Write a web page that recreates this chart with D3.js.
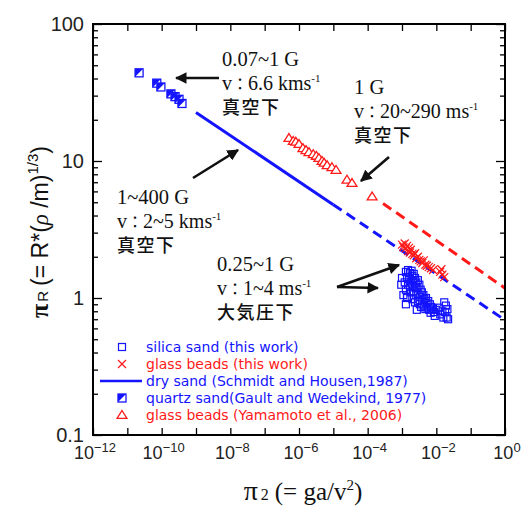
<!DOCTYPE html>
<html>
<head>
<meta charset="utf-8">
<script src="https://cdn.jsdelivr.net/npm/d3@7"></script>
<style>
  html, body { margin: 0; padding: 0; background: #fff; }
  svg { display: block; }
</style>
</head>
<body>
<svg id="chart" width="526" height="507"></svg>
<script>
// ---- data ----
// silica sand (this work): [π2, πR]
const silicaSand = [
  [1.3e-3,1.55],[1.5e-3,1.60],[1.7e-3,1.52],[1.9e-3,1.58],[1.4e-3,1.42],[1.6e-3,1.38],
  [2.0e-3,1.45],[2.2e-3,1.50],[1.2e-3,1.30],[1.5e-3,1.25],[1.8e-3,1.32],[2.1e-3,1.35],
  [2.4e-3,1.40],[1.3e-3,1.15],[1.7e-3,1.20],[2.0e-3,1.22],[2.3e-3,1.28],[2.6e-3,1.30],
  [2.9e-3,1.35],[1.1e-3,1.05],[1.4e-3,1.02],[1.8e-3,1.10],[2.2e-3,1.12],[2.5e-3,1.18],
  [2.8e-3,1.20],[3.2e-3,1.25],[3.5e-3,1.15],[2.0e-3,0.98],[2.6e-3,1.05],[3.0e-3,1.08],
  [3.4e-3,1.02],[3.8e-3,1.10],[4.2e-3,1.05],[2.4e-3,0.93],[2.9e-3,0.95],[3.3e-3,0.90],
  [3.9e-3,0.96],[4.5e-3,0.98],[5.0e-3,1.00],[3.6e-3,0.86],[4.3e-3,0.88],[5.2e-3,0.92],
  [5.8e-3,0.95],[6.5e-3,0.90],[4.8e-3,0.83],[5.5e-3,0.85],[6.2e-3,0.82],[7.0e-3,0.86],
  [8.0e-3,0.84],[6.8e-3,0.78],[8.5e-3,0.79],[1.0e-2,0.82],[1.2e-2,0.85],[1.5e-2,0.80],
  [1.7e-2,0.93],[1.8e-2,0.79],[2.0e-2,0.72],[2.2e-2,0.70],[1.4e-3,1.00],[1.3e-3,0.90],
  [9.5e-4,1.25],[1.0e-3,1.40],[2.7e-3,0.82],[1.3e-2,0.76],[1.6e-2,0.72],[9.0e-3,0.74],
  [1.9e-2,0.88],[2.1e-2,0.83]
];
// glass beads (this work)
const glassBeads = [
  [1.0e-3,2.45],[1.1e-3,2.35],[1.2e-3,2.50],[1.3e-3,2.30],[1.4e-3,2.40],[1.5e-3,2.20],
  [1.6e-3,2.32],[1.7e-3,2.15],[1.8e-3,2.25],[2.0e-3,2.10],[2.2e-3,2.05],[2.4e-3,2.12],
  [2.6e-3,1.95],[2.9e-3,2.00],[3.2e-3,1.90],[3.5e-3,1.85],[3.9e-3,1.80],[4.3e-3,1.88],
  [4.8e-3,1.75],[5.3e-3,1.72],[6.0e-3,1.68],[7.0e-3,1.65],[8.0e-3,1.60],[1.3e-2,1.55],
  [1.5e-2,1.48],[1.7e-2,1.42],[1.4e-2,1.62]
];
// quartz sand (Gault and Wedekind, 1977)
const quartzSand = [
  [2.2e-11,44],[7.2e-11,37],[9.5e-11,34.7],[1.86e-10,30.9],[2.45e-10,29.5],[3.2e-10,28.2],[3.9e-10,26.3]
];
// glass beads (Yamamoto et al., 2006)
const glassBeadsYamamoto = [
  [5.1e-7,14.7],[6.8e-7,14.0],[8.1e-7,13.8],[1.0e-6,13.3],[1.3e-6,12.4],[1.6e-6,12.0],
  [1.95e-6,11.6],[2.6e-6,11.2],[3.2e-6,10.9],[3.8e-6,10.5],[4.7e-6,10.0],[5.4e-6,9.7],
  [6.6e-6,9.3],[9.1e-6,9.0],[1.2e-5,8.6],[2.5e-5,7.3],[3.5e-5,6.9],[1.35e-4,5.5]
];
// dry sand scaling line (Schmidt and Housen, 1987): solid and extrapolated parts
const drySandSolid  = [[1e-9,22.6],[1e-5,4.8]];
const drySandDashed = [[1e-5,4.8],[1,0.69]];
// glass-bead fit (extrapolated)
const glassBeadsFit = [[2.8e-4,4.9],[1,1.18]];

const yTickValues = [0.1, 1, 10, 100];
const yTickLabels = ["0.1", "1", "10", "100"];
const xTickExponents = [-12, -10, -8, -6, -4, -2, 0];

const legendItems = [
  {label: "silica sand (this work)", color: "#1414ff", sym: "square"},
  {label: "glass beads (this work)", color: "#ff1a1a", sym: "cross"},
  {label: "dry sand (Schmidt and Housen,1987)", color: "#1414ff", sym: "line"},
  {label: "quartz sand(Gault and Wedekind, 1977)", color: "#1414ff", sym: "half"},
  {label: "glass beads (Yamamoto et al., 2006)", color: "#ff1a1a", sym: "triangle"}
];

// ---- layout ----
const BLUE = "#1414ff", RED = "#ff1a1a";
const L = 93, R = 505, T = 24, B = 435;
const svg = d3.select("#chart");
const x = d3.scaleLog().domain([1e-12, 1]).range([L, R]);
const y = d3.scaleLog().domain([0.1, 100]).range([B, T]);

const plot = svg.append("g");

// ---- axes (inward ticks on all four sides) ----
const decades = d3.range(-12, 1).map(e => Math.pow(10, e));
const yMinor = [];
[0.1, 1, 10].forEach(d => { for (let k = 2; k <= 9; k++) yMinor.push(d * k); });

function styleAxis(g) {
  g.select(".domain").remove();
  g.selectAll("line").attr("stroke", "#000").attr("stroke-width", 1.3);
}
svg.append("g").attr("transform", `translate(0,${B})`)
  .call(d3.axisBottom(x).tickValues(decades).tickSize(-7).tickFormat("")).call(styleAxis);
svg.append("g").attr("transform", `translate(0,${T})`)
  .call(d3.axisTop(x).tickValues(decades).tickSize(-7).tickFormat("")).call(styleAxis);
svg.append("g").attr("transform", `translate(${L},0)`)
  .call(d3.axisLeft(y).tickValues(yTickValues).tickSize(-9).tickFormat("")).call(styleAxis);
svg.append("g").attr("transform", `translate(${L},0)`)
  .call(d3.axisLeft(y).tickValues(yMinor).tickSize(-5).tickFormat("")).call(styleAxis);
svg.append("g").attr("transform", `translate(${R},0)`)
  .call(d3.axisRight(y).tickValues(yTickValues).tickSize(-9).tickFormat("")).call(styleAxis);
svg.append("g").attr("transform", `translate(${R},0)`)
  .call(d3.axisRight(y).tickValues(yMinor).tickSize(-5).tickFormat("")).call(styleAxis);

// tick labels
svg.append("g").selectAll("text").data(yTickValues).join("text")
  .attr("x", L - 9).attr("y", d => y(d) + 7)
  .attr("text-anchor", "end")
  .attr("font-family", "Liberation Sans, Arial, sans-serif")
  .attr("font-size", 20).attr("fill", "#222")
  .text((d, i) => yTickLabels[i]);

const xl = svg.append("g");
xTickExponents.forEach(e => {
  const t = xl.append("text")
    .attr("x", x(Math.pow(10, e)) + 2).attr("y", B + 24)
    .attr("text-anchor", "middle")
    .attr("font-family", "Liberation Sans, Arial, sans-serif")
    .attr("font-size", 18).attr("fill", "#222");
  t.append("tspan").text("10");
  t.append("tspan").attr("dy", -7).attr("font-size", 13)
    .text(e === 0 ? "0" : "−" + Math.abs(e));
});

// axis titles
const xt = svg.append("text")
  .attr("x", 303).attr("y", 500).attr("text-anchor", "middle")
  .attr("font-family", "Liberation Serif, Times New Roman, serif")
  .attr("font-size", 25).attr("fill", "#111");
xt.append("tspan").attr("font-size", 28).text("π");
xt.append("tspan").attr("font-size", 16).attr("dx", 3).text("2");
xt.append("tspan").attr("dx", 6).text("(= ga/v");
xt.append("tspan").attr("font-size", 15).attr("dy", -10).text("2");
xt.append("tspan").attr("dy", 10).text(")");

const yt = svg.append("text")
  .attr("transform", "translate(48,232) rotate(-90)")
  .attr("text-anchor", "middle")
  .attr("font-family", "Liberation Sans, Arial, sans-serif")
  .attr("font-size", 23).attr("fill", "#111");
yt.append("tspan").attr("font-family", "Liberation Serif, serif").attr("font-weight", "bold").attr("font-size", 26).text("π");
yt.append("tspan").attr("font-size", 15).attr("dx", 2).text("R");
yt.append("tspan").attr("dx", 5).text("(= R*(");
yt.append("tspan").attr("font-family", "Liberation Serif, serif").attr("font-style", "italic").text("ρ");
yt.append("tspan").text(" /m)");
yt.append("tspan").attr("font-size", 15).attr("dy", -10).text("1/3");
yt.append("tspan").attr("dy", 10).text(")");

// ---- fit lines ----
const line = d3.line().x(d => x(d[0])).y(d => y(d[1]));
plot.append("path").attr("d", line(drySandSolid))
  .attr("fill", "none").attr("stroke", BLUE).attr("stroke-width", 3);
plot.append("path").attr("d", line(drySandDashed))
  .attr("fill", "none").attr("stroke", BLUE).attr("stroke-width", 3).attr("stroke-dasharray", "10,6");
plot.append("path").attr("d", line(glassBeadsFit))
  .attr("fill", "none").attr("stroke", RED).attr("stroke-width", 3).attr("stroke-dasharray", "10,6");

// ---- marker drawing helpers ----
function drawSquare(g, cx, cy, s, color) {
  g.append("rect").attr("x", cx - s / 2).attr("y", cy - s / 2).attr("width", s).attr("height", s)
    .attr("fill", "none").attr("stroke", color).attr("stroke-width", 1.2);
}
function drawCross(g, cx, cy, s, color) {
  g.append("path").attr("d", `M${cx - s},${cy - s}L${cx + s},${cy + s}M${cx - s},${cy + s}L${cx + s},${cy - s}`)
    .attr("stroke", color).attr("stroke-width", 1.2).attr("fill", "none");
}
function drawTriangle(g, cx, cy, s, color) {
  g.append("path").attr("d", `M${cx},${cy - s}L${cx + s * 1.1},${cy + s * 0.75}L${cx - s * 1.1},${cy + s * 0.75}Z`)
    .attr("stroke", color).attr("stroke-width", 1.3).attr("fill", "#fff");
}
function drawHalf(g, cx, cy, s, color) {
  g.append("rect").attr("x", cx - s).attr("y", cy - s).attr("width", 2 * s).attr("height", 2 * s)
    .attr("fill", "#fff").attr("stroke", color).attr("stroke-width", 1.3);
  g.append("path").attr("d", `M${cx - s},${cy - s}L${cx + s},${cy - s}L${cx - s},${cy + s}Z`)
    .attr("fill", color);
}

// ---- data points ----
const gQ = plot.append("g");
quartzSand.forEach(d => drawHalf(gQ, x(d[0]), y(d[1]), 4, BLUE));
const gY = plot.append("g");
glassBeadsYamamoto.forEach(d => drawTriangle(gY, x(d[0]), y(d[1]), 4.5, RED));
const gS = plot.append("g");
silicaSand.forEach(d => drawSquare(gS, x(d[0]), y(d[1]), 7, BLUE));
const gG = plot.append("g");
glassBeads.forEach(d => drawCross(gG, x(d[0]), y(d[1]), 4, RED));

// ---- frame ----
svg.append("rect").attr("x", L).attr("y", T).attr("width", R - L).attr("height", B - T)
  .attr("fill", "none").attr("stroke", "#000").attr("stroke-width", 2);

// ---- legend ----
const lg = svg.append("g");
legendItems.forEach((it, i) => {
  const cy = 347 + i * 17;
  const sx = 122;
  if (it.sym === "square") drawSquare(lg, sx, cy, 7, it.color);
  if (it.sym === "cross") drawCross(lg, sx, cy, 4, it.color);
  if (it.sym === "half") drawHalf(lg, sx, cy, 4, it.color);
  if (it.sym === "triangle") drawTriangle(lg, sx, cy, 4.5, it.color);
  if (it.sym === "line") lg.append("line").attr("x1", 100).attr("x2", 142).attr("y1", cy).attr("y2", cy)
    .attr("stroke", it.color).attr("stroke-width", 2.5);
  lg.append("text").attr("x", 146).attr("y", cy + 5)
    .attr("font-family", "DejaVu Sans, sans-serif").attr("font-size", 14)
    .attr("fill", it.color).text(it.label);
});

// ---- annotations ----
const serif = "Liberation Serif, Times New Roman, serif";
const cjk = "Noto Sans CJK JP, sans-serif";
function annotate(x0, y0, first, vText, unit, last) {
  const g = svg.append("g").attr("fill", "#111");
  g.append("text").attr("x", x0).attr("y", y0).attr("font-family", serif).attr("font-size", 20.5).text(first);
  const t = g.append("text").attr("x", x0).attr("y", y0 + 24).attr("font-family", serif).attr("font-size", 20);
  t.append("tspan").text("v");
  t.append("tspan").attr("font-family", cjk).attr("font-size", 16).text("：");
  t.append("tspan").text(vText + " " + unit);
  t.append("tspan").attr("font-size", 11).attr("dy", -8).text("-1");
  g.append("text").attr("x", x0).attr("y", y0 + 48).attr("font-family", cjk).attr("font-weight", 500)
    .attr("font-size", 18).attr("letter-spacing", 1.5).text(last);
}
annotate(222, 66, "0.07~1 G", "6.6", "kms", "真空下");
annotate(354, 94, "1 G", "20~290", "ms", "真空下");
annotate(117, 204, "1~400 G", "2~5", "kms", "真空下");
annotate(217, 271, "0.25~1 G", "1~4", "ms", "大気圧下");

// ---- arrows ----
svg.append("defs").append("marker")
  .attr("id", "head").attr("viewBox", "0 0 10 10").attr("refX", 9).attr("refY", 5)
  .attr("markerWidth", 4.5).attr("markerHeight", 4.5).attr("orient", "auto")
  .attr("markerUnits", "strokeWidth")
  .append("path").attr("d", "M0,0L10,5L0,10Z").attr("fill", "#111");
const arrows = [
  [[219, 78], [176, 78]],
  [[389, 157], [361, 181]],
  [[193, 178], [238, 150]],
  [[337, 287], [399, 265]],
  [[337, 287], [378, 288]]
];
arrows.forEach(a => {
  svg.append("line").attr("x1", a[0][0]).attr("y1", a[0][1]).attr("x2", a[1][0]).attr("y2", a[1][1])
    .attr("stroke", "#111").attr("stroke-width", 2.6).attr("marker-end", "url(#head)");
});
</script>
</body>
</html>
